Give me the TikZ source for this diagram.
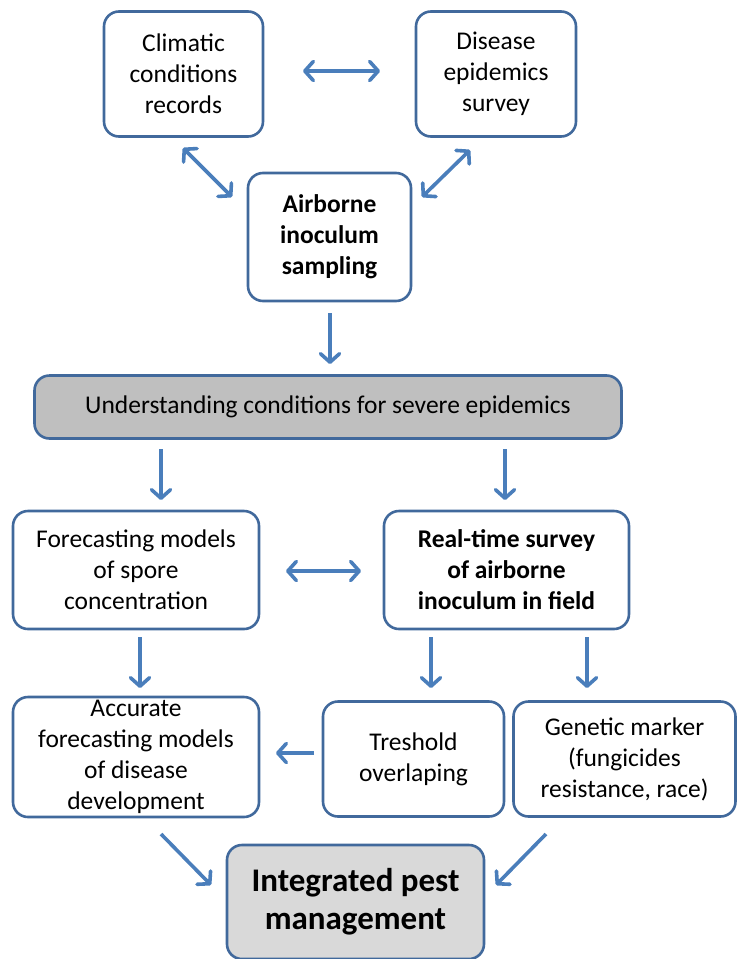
\documentclass[tikz,border=0pt]{standalone}
\usepackage{fontspec}
\setmainfont{Carlito}
\usetikzlibrary{arrows.meta}
\definecolor{bord}{HTML}{41699C}
\definecolor{arrc}{HTML}{4A7EBB}
\definecolor{bargray}{HTML}{BFBFBF}
\definecolor{ipmgray}{HTML}{D9D9D9}
\tikzset{
  box/.style={draw=bord, line width=2.6pt, rounded corners=15pt, fill=white,
    align=center, inner sep=0pt, font=\fontsize{25.5}{31}\selectfont},
  boldbox/.style={box, font=\fontsize{25.5}{31}\selectfont\bfseries},
  arr/.style={draw=arrc, line width=3.6pt, -{Straight Barb[length=8.5pt,width=19pt,round]}},
  darr/.style={draw=arrc, line width=3.6pt, {Straight Barb[length=8.5pt,width=19pt,round]}-{Straight Barb[length=8.5pt,width=19pt,round]}},
}
\begin{document}
\begin{tikzpicture}[x=1pt,y=-1pt]
\useasboundingbox (0,0) rectangle (737,959);
\node[box, minimum width=159pt, minimum height=125pt] (clim) at (183.5,74) {Climatic\\conditions\\records};
\node[box, minimum width=160pt, minimum height=125pt] (dis) at (496,74) {Disease\\epidemics\\survey};
\node[boldbox, minimum width=163pt, minimum height=128pt] (air) at (329.5,237) {Airborne\\inoculum\\sampling};
\node[box, fill=bargray, minimum width=587pt, minimum height=63pt] (und) at (328,407) {Understanding conditions for severe epidemics};
\node[box, minimum width=246pt, minimum height=118pt] (fore) at (136,570) {Forecasting models\\of spore\\concentration};
\node[boldbox, minimum width=245pt, minimum height=118pt] (real) at (506.5,570) {Real-time survey\\of airborne\\inoculum in field};
\node[box, minimum width=246pt, minimum height=120pt] (acc) at (136,757) {Accurate\\forecasting models\\of disease\\development};
\node[box, minimum width=181pt, minimum height=115pt] (tresh) at (413.5,759) {Treshold\\overlaping};
\node[box, minimum width=222pt, minimum height=115pt] (gen) at (624.5,759) {Genetic marker\\(fungicides\\resistance, race)};
\node[box, fill=ipmgray, minimum width=257pt, minimum height=114pt, font=\fontsize{33}{38}\selectfont\bfseries] (ipm) at (355.5,902) {Integrated pest\\management};

% connector end points
\coordinate (c1) at (303,71);   \coordinate (c2) at (380,71);
\coordinate (c3) at (183,148);  \coordinate (c4) at (232,197);
\coordinate (c5) at (470,150);  \coordinate (c6) at (422,197);
\coordinate (c7) at (330,313);  \coordinate (c8) at (330,364);
\coordinate (c9) at (161,449);  \coordinate (c10) at (161,500);
\coordinate (c11) at (505,449); \coordinate (c12) at (505,500);
\coordinate (c13) at (286,571); \coordinate (c14) at (361,571);
\coordinate (c15) at (140,637); \coordinate (c16) at (140,688);
\coordinate (c17) at (431,637); \coordinate (c18) at (431,688);
\coordinate (c19) at (587,637); \coordinate (c20) at (587,688);
\coordinate (c21) at (314,753); \coordinate (c22) at (276,753);
\coordinate (c23) at (161,834); \coordinate (c24) at (211,885);
\coordinate (c25) at (546,834); \coordinate (c26) at (496,885);

\draw[darr] (c1) -- (c2);
\draw[darr] (c3) -- (c4);
\draw[darr] (c5) -- (c6);
\draw[arr] (c7) -- (c8);
\draw[arr] (c9) -- (c10);
\draw[arr] (c11) -- (c12);
\draw[darr] (c13) -- (c14);
\draw[arr] (c15) -- (c16);
\draw[arr] (c17) -- (c18);
\draw[arr] (c19) -- (c20);
\draw[arr] (c21) -- (c22);
\draw[arr] (c23) -- (c24);
\draw[arr] (c25) -- (c26);
\end{tikzpicture}
\end{document}
